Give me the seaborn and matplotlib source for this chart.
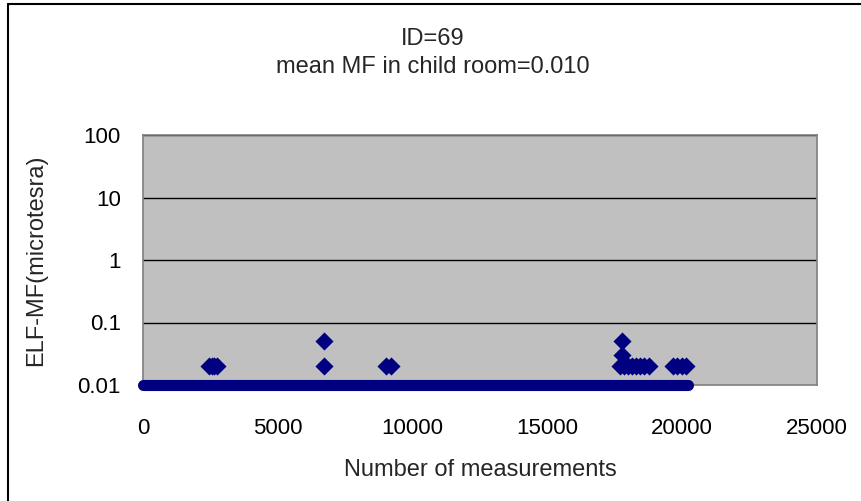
import matplotlib
matplotlib.use('Agg')
import matplotlib.pyplot as plt
from matplotlib.lines import Line2D
import seaborn as sns
import pandas as pd

meas_x = [2450, 2550, 2650, 2750,
          6700, 6700,
          9000, 9200,
          17750, 17750,
          17700, 17850, 18000, 18150, 18300, 18450, 18600, 18750,
          19650, 19800, 20000, 20150]
meas_y = [0.02, 0.02, 0.02, 0.02,
          0.02, 0.05,
          0.02, 0.02,
          0.05, 0.03,
          0.02, 0.02, 0.02, 0.02, 0.02, 0.02, 0.02, 0.02,
          0.02, 0.02, 0.02, 0.02]

# the dense run of readings at the detection floor
base_x = [0, 20200]
base_y = [0.01, 0.01]

y_ticks = [0.01, 0.1, 1, 10, 100]
y_tick_labels = ['0.01', '0.1', '1', '10', '100']
x_ticks = [0, 5000, 10000, 15000, 20000, 25000]

sns.set_style('white')
plt.rcParams['font.family'] = ['Liberation Sans', 'DejaVu Sans']

navy = '#000080'
df = pd.DataFrame({'x': meas_x, 'y': meas_y})
df_base = pd.DataFrame({'x': base_x, 'y': base_y})

fig = plt.figure(figsize=(8.61, 5.01), dpi=100)
ax = fig.add_axes([143 / 861, 1 - 385 / 501, (817 - 143) / 861, (385 - 135) / 501])
ax.set_facecolor('#c0c0c0')

ax.set_yscale('log')
ax.set_xlim(0, 25000)
ax.set_ylim(0.01, 100)

for t in y_ticks[1:]:
    ax.axhline(t, color='black', lw=1.0, zorder=1)

sns.lineplot(data=df_base, x='x', y='y', ax=ax, color=navy, lw=8,
             solid_capstyle='round', clip_on=False, zorder=3)
sns.scatterplot(data=df, x='x', y='y', ax=ax, marker='D', s=85, color=navy,
                edgecolor=navy, linewidth=0, clip_on=False, zorder=4)

ax.set_xticks(x_ticks)
ax.set_xticklabels([str(v) for v in x_ticks])
ax.set_yticks(y_ticks)
ax.set_yticklabels(y_tick_labels)
ax.minorticks_off()
ax.tick_params(axis='both', length=0, labelsize=16, colors='black')
ax.tick_params(axis='x', pad=24)
ax.tick_params(axis='y', pad=16)

for side in ['top', 'right', 'left', 'bottom']:
    ax.spines[side].set_visible(True)
    ax.spines[side].set_color('#808080')
    ax.spines[side].set_linewidth(1.2)

ax.set_xlabel('Number of measurements', fontsize=17, labelpad=14)
ax.set_ylabel('ELF-MF(microtesra)', fontsize=17, labelpad=22)

fig.text(433 / 861, 1 - 39 / 501, 'ID=69', ha='center', va='center', fontsize=17)
fig.text(433 / 861, 1 - 67 / 501, 'mean MF in child room=0.010', ha='center', va='center', fontsize=17)

# outer chart frame (left and top edges show in the crop)
fig.add_artist(Line2D([8 / 861, 8 / 861], [0, 1 - 4 / 501], color='black', lw=1.5))
fig.add_artist(Line2D([8 / 861, 1], [1 - 4 / 501, 1 - 4 / 501], color='black', lw=1.5))

fig.savefig('out.png', dpi=100)
